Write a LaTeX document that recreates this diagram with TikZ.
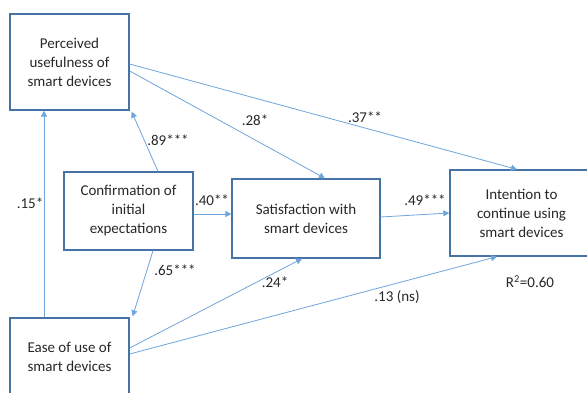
\documentclass[tikz,border=0pt]{standalone}
\usepackage{fontspec}
\setmainfont{Carlito}
\usetikzlibrary{arrows.meta}
\definecolor{boxblue}{RGB}{70,115,165}
\definecolor{lineblue}{RGB}{110,165,220}
\definecolor{txt}{RGB}{40,40,40}
\begin{document}
\begin{tikzpicture}[x=1pt,y=-1pt,
  box/.style={draw=boxblue,line width=1.3pt,rectangle,align=center,text=txt,
    font=\fontsize{15}{19}\selectfont,inner sep=0pt},
  conn/.style={draw=lineblue,line width=0.8pt,-{Triangle[length=6pt,width=6pt]}},
  lbl/.style={text=txt,font=\fontsize{15}{17}\selectfont,inner sep=0pt}]
\useasboundingbox (0,0) rectangle (587,392);
\fill[white] (0,0) rectangle (587,392);
\begin{scope}
\clip (0,0) rectangle (587,392);
\node[box,minimum width=119pt,minimum height=96pt] (pu) at (69.5,62) {Perceived\\usefulness of\\smart devices};
\node[box,minimum width=129pt,minimum height=78pt] (conf) at (128.5,211) {Confirmation of\\initial\\expectations};
\node[box,minimum width=148pt,minimum height=79pt] (sat) at (306,218.5) {Satisfaction with\\smart devices};
\node[box,minimum width=143pt,minimum height=86pt] (int) at (521.5,213) {Intention to\\continue using\\smart devices};
\node[box,minimum width=119pt,minimum height=78pt] (eou) at (69.5,357) {Ease of use of\\smart devices};
\end{scope}
\draw[conn] ([xshift=-25.5pt]eou.north) -- ([xshift=-25.5pt]pu.south);
\draw[conn] ([xshift=29.5pt]conf.north) -- ([xshift=2pt,yshift=-1pt]pu.south east);
\draw[conn] ([yshift=-3pt]conf.east) -- ([yshift=4.5pt]sat.west);
\draw[conn] ([xshift=24.5pt]conf.south) -- ([xshift=3pt,yshift=1pt]eou.north east);
\draw[conn] ([yshift=-2pt]pu.east) -- ([xshift=-4.5pt]int.north);
\draw[conn] ([yshift=-9pt]pu.east) -- ([xshift=19pt]sat.north);
\draw[conn] ([yshift=1.5pt]sat.east) -- (int.west);
\draw[conn] ([yshift=9pt]eou.east) -- ([xshift=-4pt]sat.south);
\draw[conn] ([yshift=3pt]eou.east) -- ([xshift=-24.5pt]int.south);
\node[lbl] (l15) at (30,203) {.15*};
\node[lbl] (l89) at (168,140) {.89***};
\node[lbl] (l40) at (212,200) {.40**};
\node[lbl] (l65) at (175,270) {.65***};
\node[lbl] (l37) at (365,117) {.37**};
\node[lbl] (l28) at (255,120) {.28*};
\node[lbl] (l49) at (425,200) {.49***};
\node[lbl] (l24) at (275,282) {.24*};
\node[lbl] (l13) at (397,297) {.13 (ns)};
\node[lbl] (r2) at (530,282) {R\textsuperscript{2}=0.60};
\end{tikzpicture}
\end{document}
